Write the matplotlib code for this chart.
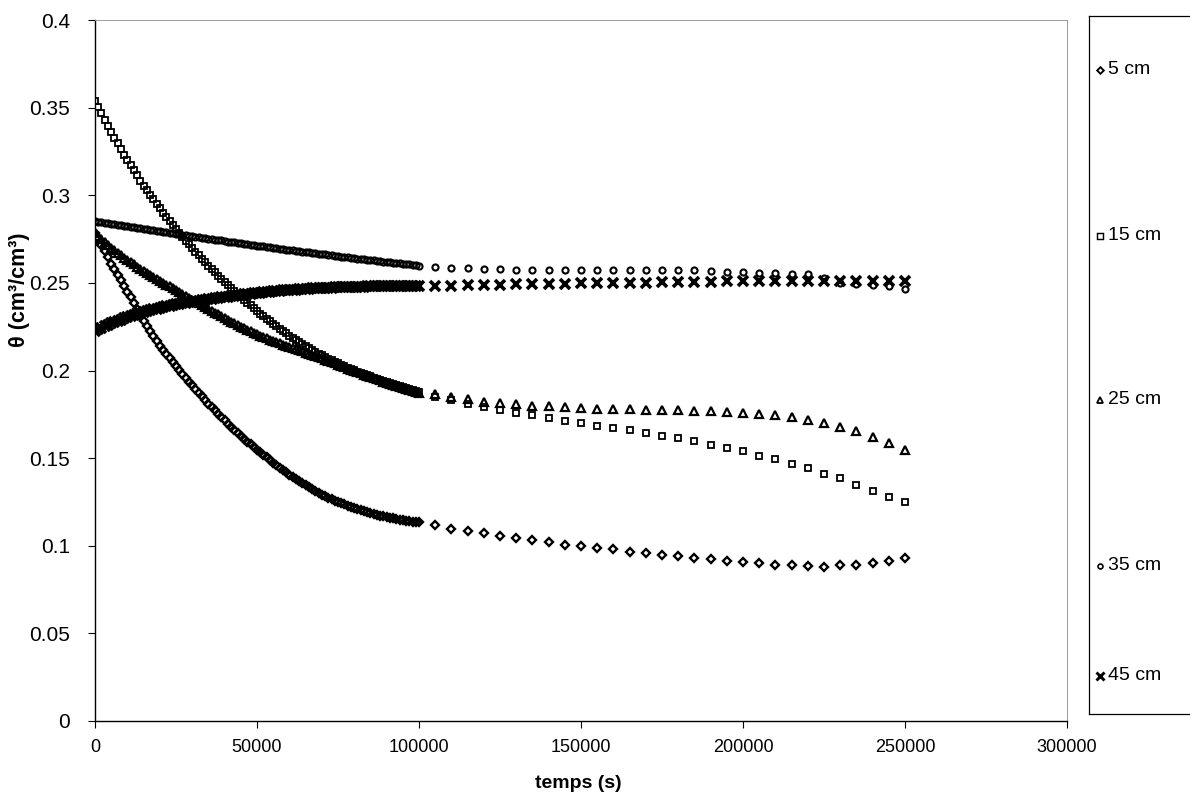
import matplotlib
matplotlib.use("Agg")
import matplotlib.pyplot as plt

# time axis: every 1000 s up to 100000 s, then every 5000 s up to 250000 s
time_dense = list(range(0, 100001, 1000))
time_sparse = list(range(105000, 250001, 5000))
time_s = time_dense + time_sparse

depth_labels = ["5 cm", "15 cm", "25 cm", "35 cm", "45 cm"]

theta_5cm = [
    0.2785, 0.2750, 0.2715, 0.2680, 0.2645, 0.2610,
    0.2578, 0.2546, 0.2514, 0.2482, 0.2450,
    0.2417, 0.2384, 0.2351, 0.2318, 0.2285,
    0.2256, 0.2227, 0.2198, 0.2169, 0.2140,
    0.2117, 0.2094, 0.2071, 0.2048, 0.2025,
    0.2003, 0.1981, 0.1959, 0.1937, 0.1915,
    0.1894, 0.1873, 0.1852, 0.1831, 0.1810,
    0.1791, 0.1772, 0.1753, 0.1734, 0.1715,
    0.1697, 0.1679, 0.1661, 0.1643, 0.1625,
    0.1610, 0.1594, 0.1579, 0.1563, 0.1548,
    0.1533, 0.1518, 0.1504, 0.1489, 0.1474,
    0.1460, 0.1446, 0.1433, 0.1419, 0.1405,
    0.1393, 0.1381, 0.1368, 0.1356, 0.1344,
    0.1334, 0.1323, 0.1313, 0.1302, 0.1292,
    0.1284, 0.1275, 0.1267, 0.1258, 0.1250,
    0.1243, 0.1236, 0.1228, 0.1221, 0.1214,
    0.1208, 0.1202, 0.1197, 0.1191, 0.1185,
    0.1181, 0.1176, 0.1172, 0.1167, 0.1163,
    0.1160, 0.1156, 0.1153, 0.1149, 0.1146,
    0.1143, 0.1141, 0.1138, 0.1136, 0.1133,
    0.1117, 0.1095, 0.1083, 0.1070, 0.1056, 0.1042, 0.1030, 0.1021, 0.1007, 0.0998,
    0.0988, 0.0979, 0.0965, 0.0959, 0.0950, 0.0939, 0.0931, 0.0922, 0.0912, 0.0906,
    0.0899, 0.0893, 0.0889, 0.0884, 0.0878, 0.0889, 0.0893, 0.0902, 0.0914, 0.0929,
]

theta_15cm = [
    0.3540, 0.3504, 0.3468, 0.3432, 0.3396, 0.3360,
    0.3328, 0.3296, 0.3264, 0.3232, 0.3200,
    0.3171, 0.3142, 0.3113, 0.3084, 0.3055,
    0.3029, 0.3003, 0.2977, 0.2951, 0.2925,
    0.2901, 0.2878, 0.2854, 0.2831, 0.2807,
    0.2785, 0.2763, 0.2741, 0.2719, 0.2697,
    0.2677, 0.2657, 0.2637, 0.2617, 0.2597,
    0.2579, 0.2560, 0.2542, 0.2523, 0.2505,
    0.2488, 0.2471, 0.2454, 0.2437, 0.2420,
    0.2404, 0.2388, 0.2372, 0.2356, 0.2340,
    0.2325, 0.2310, 0.2296, 0.2281, 0.2266,
    0.2252, 0.2239, 0.2225, 0.2212, 0.2198,
    0.2186, 0.2174, 0.2162, 0.2150, 0.2138,
    0.2128, 0.2117, 0.2107, 0.2096, 0.2086,
    0.2077, 0.2068, 0.2059, 0.2050, 0.2041,
    0.2033, 0.2025, 0.2017, 0.2009, 0.2001,
    0.1994, 0.1987, 0.1980, 0.1973, 0.1966,
    0.1960, 0.1953, 0.1947, 0.1940, 0.1934,
    0.1928, 0.1922, 0.1916, 0.1910, 0.1904,
    0.1898, 0.1893, 0.1887, 0.1882, 0.1876,
    0.1851, 0.1832, 0.1807, 0.1794, 0.1775, 0.1760, 0.1745, 0.1727, 0.1712, 0.1703,
    0.1684, 0.1670, 0.1659, 0.1642, 0.1627, 0.1613, 0.1596, 0.1575, 0.1556, 0.1538,
    0.1513, 0.1494, 0.1465, 0.1441, 0.1408, 0.1384, 0.1347, 0.1313, 0.1281, 0.1247,
]

theta_25cm = [
    0.2786, 0.2769, 0.2752, 0.2734, 0.2717, 0.2700,
    0.2686, 0.2672, 0.2658, 0.2644, 0.2630,
    0.2618, 0.2605, 0.2593, 0.2580, 0.2568,
    0.2557, 0.2546, 0.2534, 0.2523, 0.2512,
    0.2501, 0.2490, 0.2480, 0.2469, 0.2458,
    0.2447, 0.2437, 0.2426, 0.2416, 0.2405,
    0.2394, 0.2384, 0.2373, 0.2363, 0.2352,
    0.2341, 0.2330, 0.2320, 0.2309, 0.2298,
    0.2288, 0.2279, 0.2269, 0.2260, 0.2250,
    0.2241, 0.2232, 0.2224, 0.2215, 0.2206,
    0.2198, 0.2191, 0.2183, 0.2176, 0.2168,
    0.2161, 0.2155, 0.2148, 0.2142, 0.2135,
    0.2128, 0.2122, 0.2115, 0.2109, 0.2102,
    0.2096, 0.2089, 0.2083, 0.2076, 0.2070,
    0.2062, 0.2055, 0.2047, 0.2040, 0.2032,
    0.2025, 0.2018, 0.2011, 0.2004, 0.1997,
    0.1990, 0.1983, 0.1976, 0.1969, 0.1962,
    0.1956, 0.1949, 0.1943, 0.1936, 0.1930,
    0.1924, 0.1918, 0.1912, 0.1906, 0.1900,
    0.1895, 0.1890, 0.1884, 0.1879, 0.1874,
    0.1864, 0.1848, 0.1835, 0.1822, 0.1813, 0.1806, 0.1800, 0.1795, 0.1790, 0.1786,
    0.1783, 0.1781, 0.1779, 0.1777, 0.1775, 0.1773, 0.1771, 0.1768, 0.1765, 0.1760,
    0.1753, 0.1745, 0.1735, 0.1718, 0.1700, 0.1678, 0.1653, 0.1623, 0.1587, 0.1545,
]

theta_35cm = [
    0.2852, 0.2849, 0.2846, 0.2843, 0.2840, 0.2837,
    0.2834, 0.2831, 0.2828, 0.2825, 0.2822,
    0.2819, 0.2816, 0.2814, 0.2811, 0.2808,
    0.2805, 0.2802, 0.2800, 0.2797, 0.2794,
    0.2791, 0.2788, 0.2786, 0.2783, 0.2780,
    0.2777, 0.2774, 0.2772, 0.2769, 0.2766,
    0.2763, 0.2760, 0.2758, 0.2755, 0.2752,
    0.2749, 0.2747, 0.2744, 0.2742, 0.2739,
    0.2736, 0.2734, 0.2731, 0.2729, 0.2726,
    0.2723, 0.2721, 0.2718, 0.2716, 0.2713,
    0.2710, 0.2708, 0.2705, 0.2703, 0.2700,
    0.2698, 0.2695, 0.2693, 0.2690, 0.2688,
    0.2686, 0.2683, 0.2681, 0.2678, 0.2676,
    0.2674, 0.2671, 0.2669, 0.2666, 0.2664,
    0.2662, 0.2659, 0.2657, 0.2654, 0.2652,
    0.2650, 0.2648, 0.2645, 0.2643, 0.2641,
    0.2639, 0.2637, 0.2634, 0.2632, 0.2630,
    0.2628, 0.2626, 0.2623, 0.2621, 0.2619,
    0.2617, 0.2615, 0.2613, 0.2611, 0.2609,
    0.2607, 0.2605, 0.2603, 0.2601, 0.2599,
    0.2590, 0.2587, 0.2583, 0.2581, 0.2577, 0.2573, 0.2573, 0.2571, 0.2571, 0.2571,
    0.2571, 0.2571, 0.2571, 0.2571, 0.2571, 0.2571, 0.2571, 0.2567, 0.2564, 0.2564,
    0.2558, 0.2558, 0.2552, 0.2548, 0.2530, 0.2501, 0.2491, 0.2486, 0.2482, 0.2463,
]

theta_45cm = [
    0.2225, 0.2234, 0.2243, 0.2252, 0.2261, 0.2270,
    0.2277, 0.2284, 0.2291, 0.2298, 0.2305,
    0.2311, 0.2317, 0.2323, 0.2329, 0.2335,
    0.2340, 0.2344, 0.2349, 0.2353, 0.2358,
    0.2362, 0.2366, 0.2369, 0.2373, 0.2377,
    0.2380, 0.2383, 0.2386, 0.2389, 0.2392,
    0.2395, 0.2398, 0.2401, 0.2404, 0.2407,
    0.2410, 0.2412, 0.2415, 0.2417, 0.2420,
    0.2422, 0.2425, 0.2427, 0.2430, 0.2432,
    0.2434, 0.2436, 0.2439, 0.2441, 0.2443,
    0.2445, 0.2447, 0.2448, 0.2450, 0.2452,
    0.2454, 0.2455, 0.2457, 0.2458, 0.2460,
    0.2461, 0.2462, 0.2464, 0.2465, 0.2466,
    0.2467, 0.2468, 0.2469, 0.2470, 0.2471,
    0.2472, 0.2473, 0.2473, 0.2474, 0.2475,
    0.2476, 0.2476, 0.2477, 0.2477, 0.2478,
    0.2478, 0.2479, 0.2479, 0.2480, 0.2480,
    0.2480, 0.2480, 0.2481, 0.2481, 0.2481,
    0.2481, 0.2482, 0.2482, 0.2482, 0.2482,
    0.2482, 0.2482, 0.2482, 0.2482, 0.2482,
    0.2482, 0.2484, 0.2486, 0.2488, 0.2489, 0.2491, 0.2492, 0.2494, 0.2495, 0.2497,
    0.2498, 0.2499, 0.2501, 0.2502, 0.2503, 0.2505, 0.2506, 0.2507, 0.2508, 0.2509,
    0.2510, 0.2511, 0.2512, 0.2512, 0.2513, 0.2513, 0.2513, 0.2512, 0.2512, 0.2510,
]

x_ticks = [0, 50000, 100000, 150000, 200000, 250000, 300000]
x_tick_labels = ["0", "50000", "100000", "150000", "200000", "250000", "300000"]
y_ticks = [0, 0.05, 0.1, 0.15, 0.2, 0.25, 0.3, 0.35, 0.4]
y_tick_labels = ["0", "0.05", "0.1", "0.15", "0.2", "0.25", "0.3", "0.35", "0.4"]

plt.rcParams["font.family"] = ["Liberation Sans", "DejaVu Sans"]

W, H = 1190, 807
fig = plt.figure(figsize=(W / 100, H / 100), dpi=100)
ax = fig.add_axes([95 / W, (H - 721) / H, 972 / W, 701 / H])

series = [theta_5cm, theta_15cm, theta_25cm, theta_35cm, theta_45cm]
markers = ["D", "s", "^", "o", "x"]
msizes = [4.2, 5.0, 5.4, 4.4, 6.6]
mwidths = [1.7, 1.3, 1.6, 1.5, 2.6]

# open markers without fill: where they pile up the bands turn solid, as in the scan
for values, mk, ms, mw in zip(series, markers, msizes, mwidths):
    ax.plot(time_s, values, linestyle="none", marker=mk, markersize=ms,
            markerfacecolor="none", markeredgecolor="black", markeredgewidth=mw)

ax.set_xlim(0, 300000)
ax.set_ylim(0, 0.4)
ax.set_xticks(x_ticks)
ax.set_xticklabels(x_tick_labels, fontsize=13)
ax.set_yticks(y_ticks)
ax.set_yticklabels(y_tick_labels, fontsize=15)
ax.tick_params(direction="out", length=5, width=0.8, colors="black")
ax.tick_params(axis="x", pad=8)
ax.tick_params(axis="y", pad=13)
for side in ["left", "bottom"]:
    ax.spines[side].set_linewidth(1.0)
for side in ["top", "right"]:
    ax.spines[side].set_color("#9a9a9a")
    ax.spines[side].set_linewidth(0.7)

fig.text(578 / W, (H - 783) / H, "temps (s)", ha="center", va="center",
         fontsize=14, fontweight="bold")
fig.text(20 / W, (H - 290) / H, "θ (cm³/cm³)", ha="center", va="center",
         rotation=90, fontsize=15.5, fontweight="bold")

# legend box, partly cut off at the right edge of the picture
leg = fig.add_axes([1089 / W, (H - 714) / H, 120 / W, 698 / H])
leg.set_xlim(1089, 1209)
leg.set_ylim(714, 16)
leg.set_xticks([])
leg.set_yticks([])
leg.spines["right"].set_visible(False)
for side in ["left", "top", "bottom"]:
    leg.spines[side].set_linewidth(0.9)
legend_rows = [70, 236, 400, 566, 676]
for label, mk, ms, mw, yy in zip(depth_labels, markers, msizes, mwidths, legend_rows):
    leg.plot([1100], [yy], linestyle="none", marker=mk, markersize=ms * 0.8,
             markerfacecolor="none", markeredgecolor="black", markeredgewidth=mw * 0.8)
    leg.text(1108, yy, label, fontsize=14, va="center", ha="left")

fig.savefig("out.png", dpi=100)
